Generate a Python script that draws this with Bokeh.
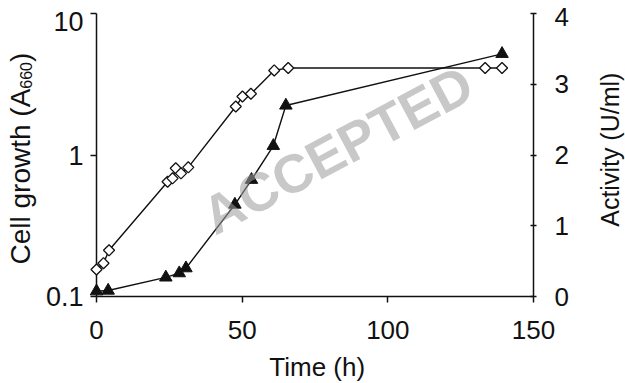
import math
from bokeh.plotting import figure
from bokeh.models import (Range1d, LinearAxis, LinearScale, FixedTicker, CustomJSTickFormatter,
                          Label, ColumnDataSource)
from bokeh.core.properties import value
from bokeh.embed import file_html
from bokeh.resources import INLINE

# ---------------- data ----------------
growth_time = [0, 2.4, 4.3, 24.4, 26.1, 27.2, 29.0, 31.5, 47.8, 50.1, 53.0, 61.0, 65.8, 133.4, 139.2]
growth_a660 = [0.155, 0.172, 0.212, 0.647, 0.684, 0.805, 0.742, 0.818, 2.20, 2.59, 2.71, 3.96, 4.12, 4.12, 4.12]
act_time = [0, 4.0, 23.8, 28.4, 30.7, 47.5, 53.2, 60.7, 65.0, 139.2]
act_uml = [0.074, 0.084, 0.27, 0.33, 0.40, 1.30, 1.65, 2.13, 2.70, 3.43]

x_ticks = [0, 50, 100, 150]
left_ticks = [0.1, 1, 10]
right_ticks = [0, 1, 2, 3, 4]

# ---------------- layout ----------------
W, H = 625, 383
FR_L, FR_R, FR_T, FR_B = 96, 533, 13, 296
X0, X1 = 0, 150
Y0, Y1 = 0.1, 10
A0, A1 = 0, 4

def xd(px):
    return X0 + (X1 - X0) * (px - FR_L) / (FR_R - FR_L)

def yd(py):
    l0, l1 = math.log10(Y0), math.log10(Y1)
    return 10 ** (l0 + (l1 - l0) * (FR_B - py) / (FR_B - FR_T))

FONT = "Liberation Sans"
INK = "#111111"

p = figure(width=W, height=H, output_backend="svg", toolbar_location=None,
           x_range=Range1d(X0, X1), y_range=Range1d(Y0, Y1), y_axis_type="log",
           min_border_left=FR_L, min_border_right=W - FR_R,
           min_border_top=FR_T, min_border_bottom=H - FR_B)
p.outline_line_color = None
p.background_fill_color = "white"
p.border_fill_color = "white"
p.xgrid.visible = False
p.ygrid.visible = False
p.extra_y_ranges = {"act": Range1d(A0, A1)}
p.extra_y_scales = {"act": LinearScale()}

def style_axis(ax, tick_in, tick_out, standoff, size="26px"):
    ax.axis_line_color = INK
    ax.axis_line_width = 1.5
    ax.major_tick_line_color = INK
    ax.major_tick_line_width = 1.5
    ax.major_tick_in = tick_in
    ax.major_tick_out = tick_out
    ax.minor_tick_line_color = None
    ax.major_label_text_font = FONT
    ax.major_label_text_font_size = size
    ax.major_label_text_color = INK
    ax.major_label_standoff = standoff

xa = p.xaxis[0]
xa.ticker = FixedTicker(ticks=x_ticks, minor_ticks=[])
style_axis(xa, 0, 6, 18)

ya = p.yaxis[0]
ya.ticker = FixedTicker(ticks=left_ticks, minor_ticks=[])
# top label drawn separately (shifted down like the original)
ya.formatter = CustomJSTickFormatter(code="return tick >= 10 ? '' : String(Math.round(tick*10)/10);")
style_axis(ya, 0, 6, 7, "27px")

ra = LinearAxis(y_range_name="act", ticker=FixedTicker(ticks=right_ticks, minor_ticks=[]))
ra.formatter = CustomJSTickFormatter(code="return tick >= 4 ? '' : String(tick);")
style_axis(ra, 3, 3, 18)
p.add_layout(ra, "right")

# ---------------- series ----------------
gsrc = ColumnDataSource(dict(t=growth_time, v=growth_a660))
asrc = ColumnDataSource(dict(t=act_time, v=act_uml))

p.line("t", "v", source=gsrc, line_color=INK, line_width=1.4)
p.line("t", "v", source=asrc, y_range_name="act", line_color=INK, line_width=1.4)
p.scatter("t", "v", source=gsrc, marker="square", angle=math.pi / 4, size=7.8,
          fill_color="white", line_color=INK, line_width=1.3, level="overlay")
p.scatter("t", "v", source=asrc, y_range_name="act", marker="triangle", size=12.5,
          fill_color=INK, line_color=INK, line_width=1, level="overlay")

# ---------------- watermark ----------------
p.add_layout(Label(x=xd(337), y=yd(149), text="ACCEPTED", angle=math.radians(28),
                   text_align="center", text_baseline="middle",
                   text_font=FONT, text_font_style="bold", text_font_size="54px",
                   text_color="#9e9e9e", text_alpha=0.57, level="overlay"))

# ---------------- texts outside the frame (unclipped overlay glyphs) ----------------
def title(x, y, text, size, angle=0.0, align="left"):
    p.text(x=[x], y=[y], text=[text], angle=angle, text_align=align,
           text_baseline="middle", text_font=value(FONT),
           text_font_size=value(size), text_color=INK, level="overlay")

title(xd(20), yd(264), "Cell growth (A", "28px", math.pi / 2)
title(xd(25), yd(88.2), "660", "16px", math.pi / 2)
title(xd(20), yd(61.5), ")", "28px", math.pi / 2)
title(xd(609.5), yd(149.2), "Activity (U/ml)", "25px", math.pi / 2, "center")
title(xd(316.7), yd(366), "Time (h)", "26px", 0.0, "center")
title(xd(83), yd(21), "10", "27px", 0.0, "right")
title(xd(554), yd(16), "4", "26px", 0.0, "left")

open("out.html", "w").write(file_html(p, INLINE))
